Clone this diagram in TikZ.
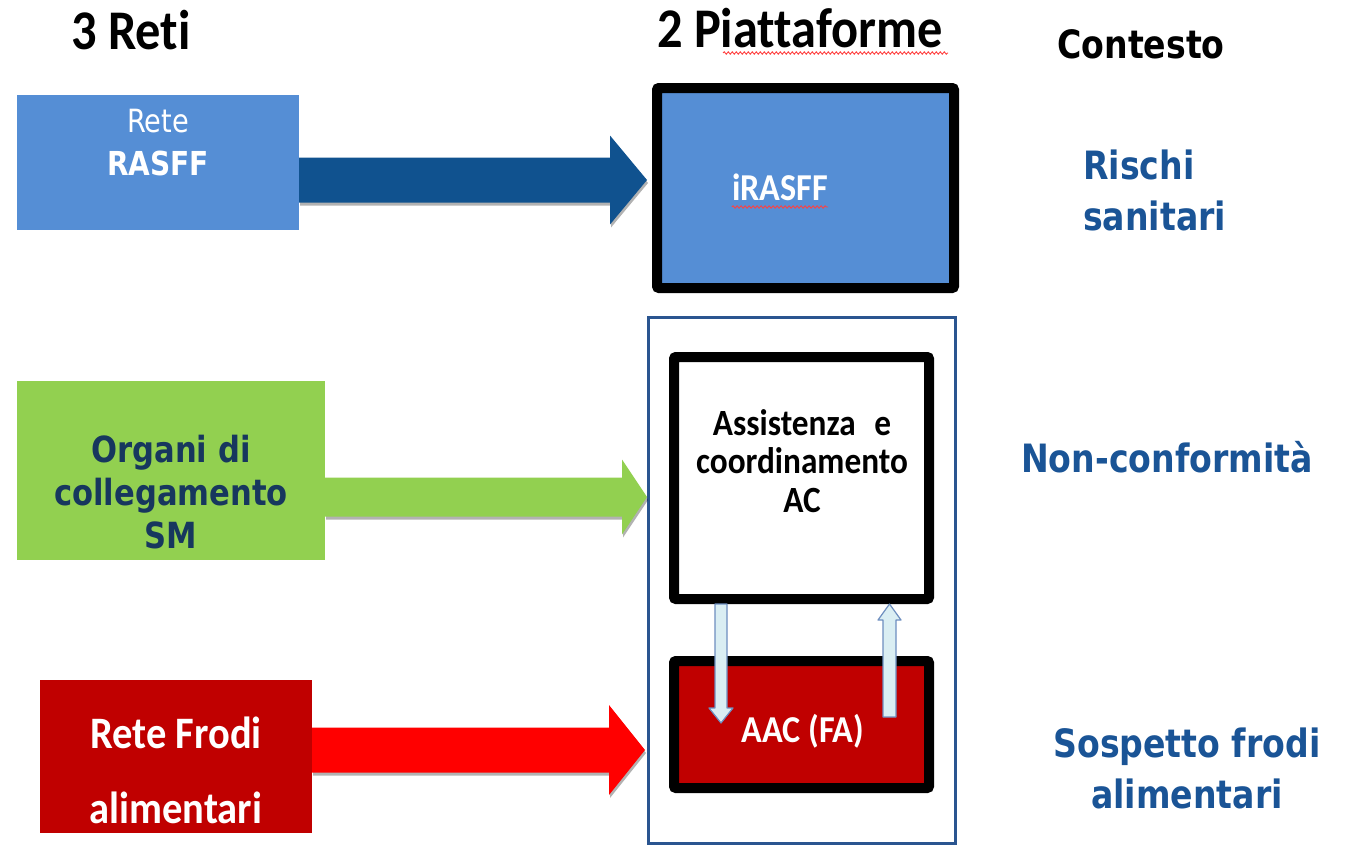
\documentclass[tikz,border=0pt]{standalone}
\usepackage{fontspec}
\usetikzlibrary{calc,shadows,decorations.pathmorphing}
\newfontfamily\calfont[FakeStretch=0.9, Ligatures=NoCommon]{Carlito}
\newfontfamily\verfont[FakeStretch=0.85]{DejaVu Sans}
\definecolor{boxblue}{HTML}{558ED5}
\definecolor{arrowblue}{HTML}{10528F}
\definecolor{boxgreen}{HTML}{92D050}
\definecolor{navy}{HTML}{17375E}
\definecolor{boxred}{HTML}{C00000}
\definecolor{arrowred}{HTML}{FF0000}
\definecolor{ctxblue}{HTML}{1A5496}
\definecolor{framblue}{HTML}{2A5590}
\definecolor{paleblue}{HTML}{DAEEF3}
\definecolor{steel}{HTML}{6D8EBF}
\tikzstyle{netbox}=[rectangle, inner sep=0pt, outer sep=0pt]
\tikzstyle{platbox}=[rectangle, draw=black, line width=10pt, rounded corners=2pt, inner sep=0pt]
\tikzstyle{head}=[font=\calfont\bfseries\fontsize{56}{60}\selectfont, inner sep=0pt, anchor=base]
\tikzstyle{ctx}=[font=\verfont\bfseries\fontsize{39}{51}\selectfont, text=ctxblue, inner sep=0pt, anchor=base]
\tikzstyle{arrowshadow}=[drop shadow={shadow xshift=1pt, shadow yshift=-3pt, opacity=0.3, fill=black}]
\tikzstyle{spell}=[draw=red!75, line width=0.9pt, decorate, decoration={snake, amplitude=1.2pt, segment length=4pt}]

% big block arrow: colour, tail, tip, half shaft, half head, head length
\newcommand{\blockarrow}[6]{%
  \fill[#1, arrowshadow] (#2) ++(0,-#4) -- ($(#3)+(-#6,-#4)$) -- ($(#3)+(-#6,-#5)$) -- (#3)
    -- ($(#3)+(-#6,#5)$) -- ($(#3)+(-#6,#4)$) -- ($(#2)+(0,#4)$) -- cycle;}
% thin vertical arrow: tail, tip, half shaft, half head, head length (signed)
\newcommand{\thinarrow}[5]{%
  \filldraw[fill=paleblue, draw=steel, line width=1.2pt, line join=round]
    ($(#1)+(-#3,0)$) -- ($(#2)+(-#3,{-(#5)})$) -- ($(#2)+(-#4,{-(#5)})$) -- (#2)
    -- ($(#2)+(#4,{-(#5)})$) -- ($(#2)+(#3,{-(#5)})$) -- ($(#1)+(#3,0)$) -- cycle;}

\begin{document}
\begin{tikzpicture}[x=1pt,y=-1pt]
  \useasboundingbox (0,0) rectangle (1355,846);

  % headings
  \node[head] (reti) at (131,49) {3 Reti};
  \node[head] (piatt-title) at (800,47) {2 Piattaforme};
  \node[ctx, text=black] (contesto) at (1141,58) {Contesto};
  \draw[spell] ($(piatt-title.base west)+(66,6)$) -- ($(piatt-title.base east)+(5,6)$);

  % the three networks
  \node[netbox, fill=boxblue, minimum width=282, minimum height=135] (rasff) at (158,162.5) {};
  \node[netbox, fill=boxgreen, minimum width=308, minimum height=179] (organi) at (171,470.5) {};
  \node[netbox, fill=boxred, minimum width=272, minimum height=153] (frodi) at (176,756.5) {};

  % multi-line texts: base = last line
  \node[anchor=base, align=center, text=white, inner sep=0pt,
        font=\verfont\fontsize{32}{43}\selectfont] (rasff-txt) at (158,175)
        {Rete\\{\bfseries\fontsize{33}{43}\selectfont RASFF}};
  \node[anchor=base, align=center, text=navy, inner sep=0pt,
        font=\verfont\bfseries\fontsize{36}{43}\selectfont] (organi-txt) at (171,548)
        {Organi di\\collegamento\\SM};
  \node[anchor=base, align=center, text=white, inner sep=0pt,
        font=\calfont\bfseries\fontsize{45}{75}\selectfont] (frodi-txt) at (176,823)
        {Rete Frodi\\alimentari};

  % the two platforms
  \node[platbox, fill=boxblue, minimum width=297, minimum height=200] (irasff) at (805.5,188) {};
  \node[anchor=base, text=white, inner sep=0pt, font=\calfont\bfseries\fontsize{38}{40}\selectfont]
        (irasff-txt) at (780,200) {iRASFF};
  \draw[spell] ($(irasff-txt.base west)+(0,7)$) -- ($(irasff-txt.base east)+(0,7)$);

  \node[rectangle, draw=framblue, line width=3pt, inner sep=0pt,
        minimum width=307, minimum height=526] (piatt) at (802,580.5) {};
  \node[platbox, fill=white, minimum width=255, minimum height=242] (assist) at (801.5,478) {};
  \node[platbox, fill=boxred, minimum width=255, minimum height=127] (aac) at (801.5,724.5) {};

  \node[anchor=base, align=center, inner sep=0pt, font=\calfont\bfseries\fontsize{37}{38.5}\selectfont]
        (assist-txt) at (802,512) {Assistenza\enspace e\\coordinamento\\AC};
  \node[anchor=base, text=white, inner sep=0pt, font=\calfont\bfseries\fontsize{38}{40}\selectfont]
        (aac-txt) at (803,742) {AAC (FA)};

  % arrows network -> platform
  \foreach \src/\dst/\yy/\gap/\col/\h/\H/\L in
    {rasff/irasff/180/5/arrowblue/22.5/44.5/37,
     organi/piatt/497/0/boxgreen/19.5/37.5/25,
     frodi/piatt/750/2/arrowred/22.5/45/36} {
    \coordinate (tip) at ($(\dst.west |- 0,\yy)+(-\gap,0)$);
    \coordinate (tail) at (\src.east |- tip);
    \blockarrow{\col}{tail}{tip}{\h}{\H}{\L}
  }

  % exchange between the two boxes
  \coordinate (dn-tail) at (assist.south -| 721,0);
  \coordinate (dn-tip) at ($(aac.center)+(-80.5,-1.5)$);
  \coordinate (up-tail) at ($(aac.center)+(88,-7.5)$);
  \coordinate (up-tip) at (assist.south -| 889.5,0);
  \thinarrow{dn-tail}{dn-tip}{6}{12}{15}
  \thinarrow{up-tail}{up-tip}{6.5}{11.5}{-16}

  % context
  \node[ctx, anchor=base west, align=left] (rischi) at (1083,230) {Rischi\\sanitari};
  \node[ctx] (nonconf) at (1167,472) {Non-conformità};
  \node[ctx, align=center] (sospetto) at (1187,808) {Sospetto frodi\\alimentari};
\end{tikzpicture}
\end{document}
